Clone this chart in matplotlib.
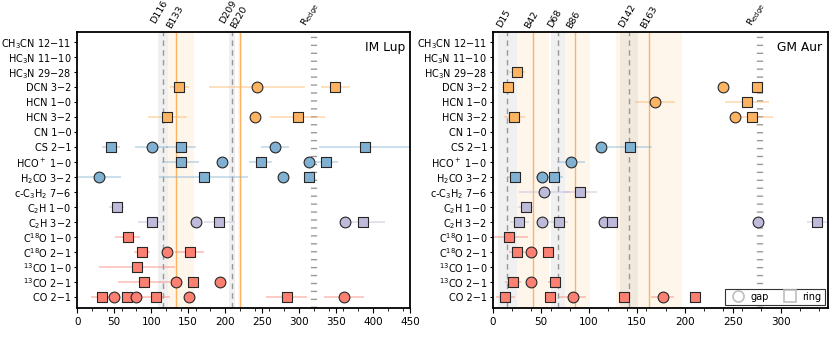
import matplotlib.pyplot as plt
from matplotlib.lines import Line2D

# row order, top to bottom
names = ['CH3CN 12-11', 'HC3N 11-10', 'HC3N 29-28', 'DCN 3-2', 'HCN 1-0', 'HCN 3-2',
         'CN 1-0', 'CS 2-1', 'HCO+ 1-0', 'H2CO 3-2', 'c-C3H2 7-6', 'C2H 1-0', 'C2H 3-2',
         'C18O 1-0', 'C18O 2-1', '13CO 1-0', '13CO 2-1', 'CO 2-1']
m = '\u2212'
labels = [f'CH$_3$CN 12{m}11', f'HC$_3$N 11{m}10', f'HC$_3$N 29{m}28', f'DCN 3{m}2',
          f'HCN 1{m}0', f'HCN 3{m}2', f'CN 1{m}0', f'CS 2{m}1', f'HCO$^+$ 1{m}0',
          f'H$_2$CO 3{m}2', f'c-C$_3$H$_2$ 7{m}6', f'C$_2$H 1{m}0', f'C$_2$H 3{m}2',
          f'C$^{{18}}$O 1{m}0', f'C$^{{18}}$O 2{m}1', f'$^{{13}}$CO 1{m}0',
          f'$^{{13}}$CO 2{m}1', f'CO 2{m}1']
groups = ['N', 'N', 'N', 'N', 'N', 'N', 'N', 'S', 'S', 'S', 'C', 'C', 'C',
          'O', 'O', 'O', 'O', 'O']
group_color = {'N': '#FDB462', 'S': '#80B1D3', 'C': '#BEBADA', 'O': '#FB8072'}

# IM Lup features (g = gap, r = ring)
imlup_mol = ['DCN 3-2'] * 3 + ['HCN 3-2'] * 3 + ['CS 2-1'] * 5 + ['HCO+ 1-0'] * 5 + \
            ['H2CO 3-2'] * 4 + ['C2H 1-0'] + ['C2H 3-2'] * 5 + ['C18O 1-0'] + \
            ['C18O 2-1'] * 3 + ['13CO 1-0'] + ['13CO 2-1'] * 4 + ['CO 2-1'] * 8
imlup_kind = ['r', 'g', 'r',  'r', 'g', 'r',  'r', 'g', 'r', 'g', 'r',
              'r', 'g', 'r', 'g', 'r',  'g', 'r', 'g', 'r',  'r',
              'r', 'g', 'r', 'g', 'r',  'r',  'r', 'g', 'r',  'r',
              'r', 'g', 'r', 'g',  'r', 'g', 'r', 'g', 'r', 'g', 'r', 'g']
imlup_r = [138, 243, 349,  122, 240, 298,  45.5, 100.5, 140, 267, 389,
           140, 195.5, 248, 314, 336.5,  29, 171, 278, 314,  53.6,
           100.5, 161, 192, 362.6, 386,  68.5,  88, 121, 152,  81,
           90, 133, 157, 193,  33, 50, 67.6, 80, 106, 151, 283, 361]
imlup_err = [13, 65, 20,  26, 0, 37,  12, 22, 20, 19, 62,
             25, 0, 16, 0, 16,  30, 60, 0, 0,  10,
             18, 0, 21, 0, 30,  17,  11, 0, 20,  51,
             35, 0, 0, 0,  14, 0, 0, 0, 20, 0, 28, 27]
imlup_dgaps = [116, 209]
imlup_dgap_band = [(109, 123), (205, 214)]
imlup_brings = [133, 220]
imlup_bring_band = [(123, 158.5), (217.5, 222.5)]
imlup_redge = 320

# GM Aur features
gmaur_mol = ['HC3N 29-28'] + ['DCN 3-2'] * 3 + ['HCN 1-0'] * 2 + ['HCN 3-2'] * 3 + \
            ['CS 2-1'] * 2 + ['HCO+ 1-0'] + ['H2CO 3-2'] * 3 + ['c-C3H2 7-6'] * 2 + \
            ['C2H 1-0'] + ['C2H 3-2'] * 7 + ['C18O 1-0'] + ['C18O 2-1'] * 3 + \
            ['13CO 2-1'] * 3 + ['CO 2-1'] * 6
gmaur_kind = ['r',  'r', 'g', 'r',  'g', 'r',  'r', 'g', 'r',  'g', 'r',  'g',
              'r', 'g', 'r',  'g', 'r',  'r',  'r', 'g', 'r', 'g', 'r', 'g', 'r',
              'r',  'r', 'g', 'r',  'r', 'g', 'r',  'r', 'r', 'g', 'r', 'g', 'r']
gmaur_r = [25,  15.7, 240, 275.6,  169, 265,  22, 252, 270,  113, 143,  81.4,
           22.6, 51, 64,  53.6, 90.5,  34.4,  27.5, 51, 68.5, 116, 124, 276, 338,
           17,  25, 39.3, 57.4,  21, 39.3, 64.4,  13, 59, 83, 137, 177, 211]
gmaur_err = [8,  6.5, 0, 0,  21, 23,  11, 0, 22,  6, 23,  15,
             7, 6, 9,  27, 18,  8,  10, 0, 10, 0, 0, 0, 10,
             20,  8, 0, 0,  8, 0, 7,  10, 0, 14, 5, 12, 0]
gmaur_dgaps = [15, 68, 142]
gmaur_dgap_band = [(5, 25.5), (61, 75), (133, 151)]
gmaur_brings = [42, 86, 163]
gmaur_bring_band = [(25.5, 58.5), (75, 101.7), (128, 197)]
gmaur_redge = 279

fig = plt.figure(figsize=(8.3, 3.4), dpi=100)
ax1 = fig.add_axes([0.093, 0.095, 0.401, 0.812])
ax2 = fig.add_axes([0.594, 0.095, 0.403, 0.812])


def tag(ax, x, text, dx, dy):
    ax.annotate(text, xy=(x, 1), xycoords=('data', 'axes fraction'), xytext=(dx, dy),
                textcoords='offset points', rotation=60, rotation_mode='anchor',
                ha='left', va='bottom', fontsize=6.8)


def draw(ax, mol, kind, r, err, dgaps, dband, brings, bband, redge, xmax, name, d_lift):
    for lo, hi in dband:
        ax.axvspan(lo, hi, color='0.93', alpha=0.8, lw=0, zorder=0)
    for lo, hi in bband:
        ax.axvspan(lo, hi, color='#FDB462', alpha=0.12, lw=0, zorder=0)
    for g in dgaps:
        ax.axvline(g, color='0.6', ls=(0, (4, 3)), lw=1, zorder=1)
    for b in brings:
        ax.axvline(b, color='#FDB462', lw=1, zorder=1)
    ax.axvline(redge, color='0.6', lw=4.5, ls=(0, (0.22, 1.05)), zorder=1)

    for mo, k, x, e in zip(mol, kind, r, err):
        y = names.index(mo)
        c = group_color[groups[y]]
        if e > 0:
            ax.errorbar(x, y, xerr=e, fmt='none', ecolor=c, alpha=0.45, lw=1.3, zorder=2)
        if k == 'g':
            ax.scatter(x, y, s=60, marker='o', color=c, edgecolor='0.15', lw=0.8, zorder=3)
        else:
            ax.scatter(x, y, s=50, marker='s', color=c, edgecolor='0.15', lw=0.8, zorder=3)

    for g in dgaps:
        tag(ax, g, f'D{g}', -3 - d_lift * 0.5, 2 + d_lift)
    for b in brings:
        tag(ax, b, f'B{b}', -2, 1.5)
    tag(ax, redge, r'R$_{\rm edge}$', -3, 2)

    ax.set_xlim(0, xmax)
    ax.set_ylim(17.7, -0.7)
    ax.set_yticks(range(len(names)))
    ax.set_yticklabels(labels, fontsize=7)
    ax.tick_params(axis='y', length=2.5, pad=1.8)
    ax.xaxis.set_minor_locator(plt.MultipleLocator(20))
    ax.tick_params(axis='x', labelsize=7.5)
    for s in ax.spines.values():
        s.set_linewidth(1.3)
    ax.text(0.985, 0.965, name, transform=ax.transAxes, ha='right', va='top', fontsize=8.8)


draw(ax1, imlup_mol, imlup_kind, imlup_r, imlup_err, imlup_dgaps, imlup_dgap_band,
     imlup_brings, imlup_bring_band, imlup_redge, 450, 'IM Lup', 2.5)
draw(ax2, gmaur_mol, gmaur_kind, gmaur_r, gmaur_err, gmaur_dgaps, gmaur_dgap_band,
     gmaur_brings, gmaur_bring_band, gmaur_redge, 349, 'GM Aur', 0)

handles = [Line2D([], [], ls='none', marker='o', ms=8, mfc='white', mec='0.75', mew=1.2),
           Line2D([], [], ls='none', marker='s', ms=8, mfc='white', mec='0.75', mew=1.2)]
leg = ax2.legend(handles, ['gap', 'ring'], loc='lower right', ncol=2, fontsize=7,
                 fancybox=False, edgecolor='0.2', framealpha=1, borderaxespad=0.3,
                 borderpad=0.3, handletextpad=0.3, columnspacing=1.2)
leg.get_frame().set_linewidth(0.8)

fig.savefig('out.png', dpi=100)
